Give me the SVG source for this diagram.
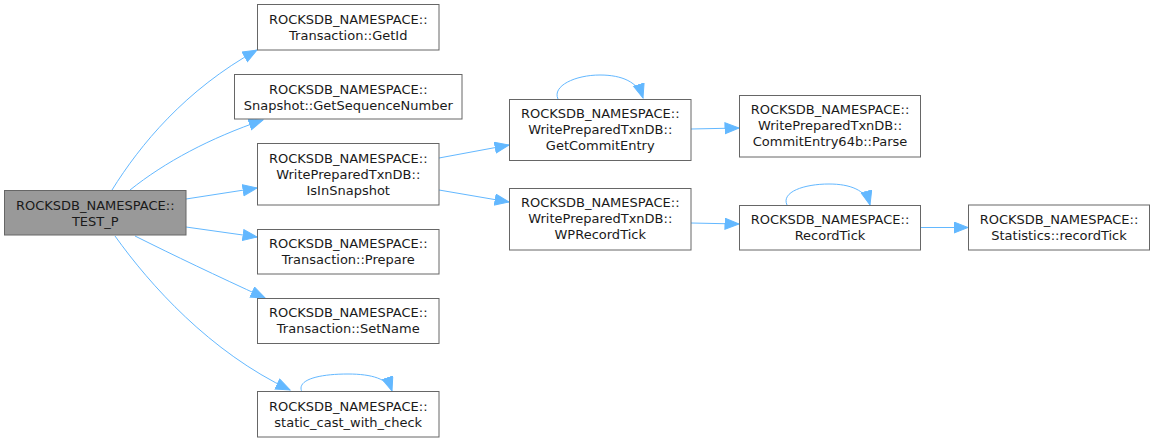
<svg xmlns="http://www.w3.org/2000/svg" width="1155" height="442" viewBox="0 0 1155 442">
<style>
.n rect{fill:#ffffff;stroke:#666666;stroke-width:1}
.n.root rect{fill:#999999}
.n text{font-family:"DejaVu Sans","Liberation Sans",sans-serif;font-size:13px;fill:#1a1a1a;text-anchor:middle}
.e path{fill:none;stroke:#63b8ff;stroke-width:1;marker-end:url(#ah)}
</style>
<defs>
<marker id="ah" markerUnits="userSpaceOnUse" markerWidth="18" markerHeight="14" refX="14.5" refY="6" orient="auto">
<path d="M0.5,0.5 L14.5,6 L0.5,11.5 z" fill="#63b8ff" stroke="#63b8ff" stroke-width="1"/>
</marker>
</defs>
<g id="connectors" class="e">
<path d="M112,190 C140,145 185,90 257,50"/>
<path d="M130,190 C165,162 210,138 263,120"/>
<path d="M186,199 L257,188"/>
<path d="M186,227 L257,237"/>
<path d="M135,236 C175,256 215,275 265,298"/>
<path d="M115,236 C150,285 210,352 290,390"/>
<path d="M302,392 C296,380 318,374 348,374 C372,374 388,379 392,391"/>
<path d="M439,158 L509,145"/>
<path d="M439,190 L509,202"/>
<path d="M558,99 C552,86 575,75 600,75 C622,75 638,82 643,98"/>
<path d="M691,129 L739,128"/>
<path d="M691,223 L739,224"/>
<path d="M787,205 C781,192 804,184 829,184 C850,184 866,190 870,205"/>
<path d="M920,227.5 L968,227.5"/>
</g>
<g id="node-test_p" class="n root">
<rect x="4.5" y="190.5" width="181.5" height="44.5"/>
<text x="95.25" y="209.5">ROCKSDB_NAMESPACE::</text>
<text x="95.25" y="225.5">TEST_P</text>
</g>
<g id="node-getid" class="n">
<rect x="257.5" y="4.5" width="181.5" height="45.5"/>
<text x="348.25" y="23.5">ROCKSDB_NAMESPACE::</text>
<text x="348.25" y="39.5">Transaction::GetId</text>
</g>
<g id="node-getsequencenumber" class="n">
<rect x="234.5" y="74.5" width="227.5" height="44.5"/>
<text x="348.25" y="93.5">ROCKSDB_NAMESPACE::</text>
<text x="348.25" y="109.5">Snapshot::GetSequenceNumber</text>
</g>
<g id="node-isinsnapshot" class="n">
<rect x="257.5" y="143.5" width="181.5" height="61.5"/>
<text x="348.25" y="162.5">ROCKSDB_NAMESPACE::</text>
<text x="348.25" y="178.5">WritePreparedTxnDB::</text>
<text x="348.25" y="194.5">IsInSnapshot</text>
</g>
<g id="node-prepare" class="n">
<rect x="257.5" y="229.5" width="181.5" height="44.5"/>
<text x="348.25" y="247.5">ROCKSDB_NAMESPACE::</text>
<text x="348.25" y="263.5">Transaction::Prepare</text>
</g>
<g id="node-setname" class="n">
<rect x="257.5" y="298.5" width="181.5" height="45"/>
<text x="348.25" y="317">ROCKSDB_NAMESPACE::</text>
<text x="348.25" y="333">Transaction::SetName</text>
</g>
<g id="node-static_cast_with_check" class="n">
<rect x="257.5" y="391.5" width="181.5" height="45.5"/>
<text x="348.25" y="410.5">ROCKSDB_NAMESPACE::</text>
<text x="348.25" y="426.5">static_cast_with_check</text>
</g>
<g id="node-getcommitentry" class="n">
<rect x="509.5" y="99.5" width="181.5" height="61"/>
<text x="600.25" y="118">ROCKSDB_NAMESPACE::</text>
<text x="600.25" y="134">WritePreparedTxnDB::</text>
<text x="600.25" y="150">GetCommitEntry</text>
</g>
<g id="node-wprecordtick" class="n">
<rect x="509.5" y="188.5" width="181.5" height="61.5"/>
<text x="600.25" y="207">ROCKSDB_NAMESPACE::</text>
<text x="600.25" y="223">WritePreparedTxnDB::</text>
<text x="600.25" y="239">WPRecordTick</text>
</g>
<g id="node-parse" class="n">
<rect x="739.5" y="95.5" width="181" height="61.5"/>
<text x="830" y="114">ROCKSDB_NAMESPACE::</text>
<text x="830" y="130">WritePreparedTxnDB::</text>
<text x="830" y="146">CommitEntry64b::Parse</text>
</g>
<g id="node-recordtick" class="n">
<rect x="739.5" y="205.5" width="181" height="44.5"/>
<text x="830" y="224">ROCKSDB_NAMESPACE::</text>
<text x="830" y="240">RecordTick</text>
</g>
<g id="node-statistics_recordtick" class="n">
<rect x="968.5" y="205" width="181" height="45"/>
<text x="1059" y="223.5">ROCKSDB_NAMESPACE::</text>
<text x="1059" y="239.5">Statistics::recordTick</text>
</g>
</svg>
